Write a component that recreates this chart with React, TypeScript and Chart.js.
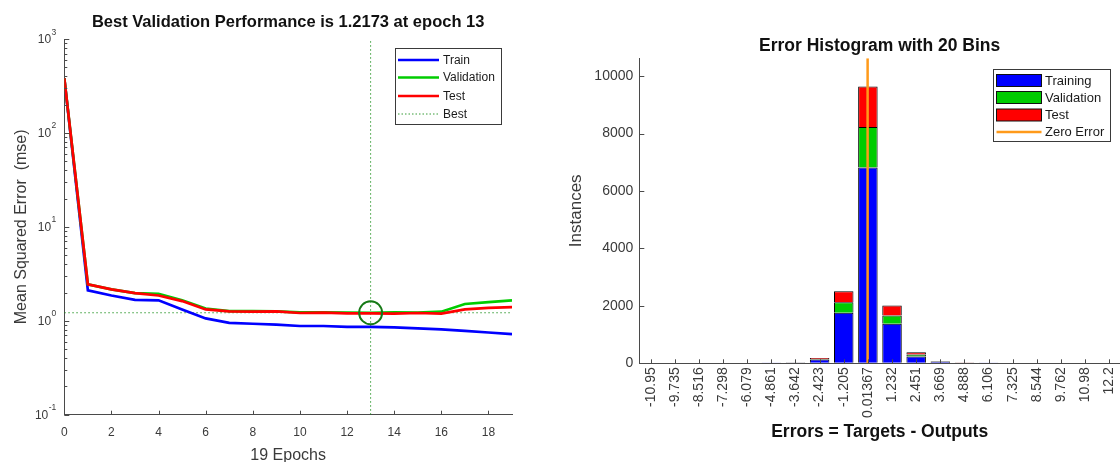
import React, { useEffect, useRef } from 'react';
import { Chart, registerables } from 'chart.js';

Chart.register(...registerables);

const FONT = "'Liberation Sans', Arial, Helvetica, sans-serif";

// ---------- Performance (left) data ----------
const epochs = [0, 1, 2, 3, 4, 5, 6, 7, 8, 9, 10, 11, 12, 13, 14, 15, 16, 17, 18, 19];
const trainPerf = [383, 2.11, 1.86, 1.67, 1.65, 1.32, 1.06, 0.95, 0.93, 0.91, 0.88, 0.88, 0.86, 0.86, 0.85, 0.83, 0.81, 0.78, 0.75, 0.72];
const validationPerf = [383, 2.44, 2.16, 1.97, 1.94, 1.65, 1.35, 1.27, 1.27, 1.26, 1.23, 1.23, 1.22, 1.2173, 1.23, 1.22, 1.25, 1.51, 1.58, 1.65];
const testPerf = [383, 2.44, 2.16, 1.97, 1.86, 1.62, 1.32, 1.26, 1.25, 1.26, 1.21, 1.22, 1.2, 1.2, 1.19, 1.21, 1.19, 1.32, 1.37, 1.4];
const bestEpoch = 13;
const bestPerf = 1.2173;
const perfDecades = [-1, 0, 1, 2, 3];
const epochTicks = [0, 2, 4, 6, 8, 10, 12, 14, 16, 18];
const perfTitle = 'Best Validation Performance is 1.2173 at epoch 13';

// ---------- Error histogram (right) data ----------
const binLabels = ['-10.95', '-9.735', '-8.516', '-7.298', '-6.079', '-4.861', '-3.642', '-2.423', '-1.205', '0.01367', '1.232', '2.451', '3.669', '4.888', '6.106', '7.325', '8.544', '9.762', '10.98', '12.2'];
const binCenters = binLabels.map(Number);
const trainingCounts = [0, 0, 0, 0, 0, 2, 32, 130, 1760, 6820, 1375, 240, 60, 25, 1, 0, 0, 0, 0, 0];
const validationCounts = [0, 0, 0, 0, 0, 0, 6, 20, 365, 1410, 290, 70, 10, 5, 0, 0, 0, 0, 0, 0];
const testCounts = [0, 0, 0, 0, 0, 0, 7, 35, 380, 1410, 345, 75, 10, 5, 0, 0, 0, 0, 0, 0];
const countTicks = [0, 2000, 4000, 6000, 8000, 10000];
const countMax = 10620;
const errorMin = -11.525;
const errorMax = 12.74;
const zeroError = 0;
const histTitle = 'Error Histogram with 20 Bins';

// ---------- styles ----------
const AXIS = '#4a4a4a';
const TEXT = '#3a3a3a';
const BLUE = '#0000ff';
const GREEN = '#00cc00';
const RED = '#ff0000';
const ORANGE = '#ff9a1a';
const BEST_DOT = 'rgba(20,140,20,0.85)';

function drawLegendBox(ctx: CanvasRenderingContext2D, x: number, y: number, w: number, h: number) {
  ctx.save();
  ctx.fillStyle = '#ffffff';
  ctx.fillRect(x, y, w, h);
  ctx.strokeStyle = '#3a3a3a';
  ctx.lineWidth = 1;
  ctx.strokeRect(Math.round(x) + 0.5, Math.round(y) + 0.5, Math.round(w), Math.round(h));
  ctx.restore();
}

const perfPlugin = {
  id: 'perfDecor',
  afterDraw(chart: any) {
    const ctx: CanvasRenderingContext2D = chart.ctx;
    const xs = chart.scales.x;
    const ys = chart.scales.y;
    const area = chart.chartArea;
    ctx.save();
    ctx.strokeStyle = AXIS;
    ctx.lineWidth = 1;
    for (const v of epochTicks) {
      const px = Math.round(xs.getPixelForValue(v)) + 0.5;
      ctx.beginPath();
      ctx.moveTo(px, area.bottom);
      ctx.lineTo(px, area.bottom - 4);
      ctx.stroke();
    }
    for (const e of perfDecades) {
      const py = Math.round(ys.getPixelForValue(Math.pow(10, e))) + 0.5;
      ctx.beginPath();
      ctx.moveTo(area.left, py);
      ctx.lineTo(area.left + 5, py);
      ctx.stroke();
      if (e < perfDecades[perfDecades.length - 1]) {
        for (let m = 2; m <= 9; m++) {
          const pm = Math.round(ys.getPixelForValue(m * Math.pow(10, e))) + 0.5;
          ctx.beginPath();
          ctx.moveTo(area.left, pm);
          ctx.lineTo(area.left + 3, pm);
          ctx.stroke();
        }
      }
    }
    ctx.fillStyle = TEXT;
    for (const e of perfDecades) {
      const py = ys.getPixelForValue(Math.pow(10, e));
      const right = area.left - 8;
      ctx.font = `8.5px ${FONT}`;
      const expText = e < 0 ? '-' + Math.abs(e) : String(e);
      const ew = ctx.measureText(expText).width;
      ctx.textAlign = 'left';
      ctx.textBaseline = 'alphabetic';
      ctx.fillText(expText, right - ew, py - 4.5);
      ctx.font = `12px ${FONT}`;
      ctx.textAlign = 'right';
      ctx.textBaseline = 'middle';
      ctx.fillText('10', right - ew - 0.5, py + 0.5);
    }
    ctx.restore();

    const lx = 394.6, ly = 48, lw = 106, lh = 76;
    drawLegendBox(ctx, lx, ly, lw, lh);
    const rows = [
      { label: 'Train', color: BLUE, dash: false },
      { label: 'Validation', color: GREEN, dash: false },
      { label: 'Test', color: RED, dash: false },
      { label: 'Best', color: BEST_DOT, dash: true },
    ];
    const rowY = [60, 77.5, 96, 114];
    ctx.save();
    rows.forEach((r, i) => {
      const y = rowY[i];
      ctx.beginPath();
      ctx.strokeStyle = r.color;
      ctx.lineWidth = r.dash ? 1 : 2.7;
      ctx.setLineDash(r.dash ? [1.5, 2] : []);
      ctx.moveTo(398, y);
      ctx.lineTo(439, y);
      ctx.stroke();
      ctx.setLineDash([]);
      ctx.fillStyle = '#1a1a1a';
      ctx.font = `12px ${FONT}`;
      ctx.textAlign = 'left';
      ctx.textBaseline = 'middle';
      ctx.fillText(r.label, 443, y + 0.5);
    });
    ctx.restore();
  },
};

const histPlugin = {
  id: 'histDecor',
  afterDraw(chart: any) {
    const ctx: CanvasRenderingContext2D = chart.ctx;
    const xs = chart.scales.x;
    const ys = chart.scales.y;
    const area = chart.chartArea;
    ctx.save();
    ctx.strokeStyle = AXIS;
    ctx.lineWidth = 1;
    for (const c of binCenters) {
      const px = Math.round(xs.getPixelForValue(c)) + 0.5;
      ctx.beginPath();
      ctx.moveTo(px, area.bottom);
      ctx.lineTo(px, area.bottom - 4);
      ctx.stroke();
    }
    for (const v of countTicks) {
      const py = Math.round(ys.getPixelForValue(v)) + 0.5;
      ctx.beginPath();
      ctx.moveTo(area.left, py);
      ctx.lineTo(area.left + 5, py);
      ctx.stroke();
    }
    ctx.restore();

    const lx = 433, ly = 69, lw = 117, lh = 72;
    drawLegendBox(ctx, lx, ly, lw, lh);
    const rows = [
      { label: 'Training', color: BLUE, line: false },
      { label: 'Validation', color: GREEN, line: false },
      { label: 'Test', color: RED, line: false },
      { label: 'Zero Error', color: ORANGE, line: true },
    ];
    const rowY = [80.5, 97.5, 115, 132];
    ctx.save();
    rows.forEach((r, i) => {
      const y = rowY[i];
      if (r.line) {
        ctx.beginPath();
        ctx.strokeStyle = r.color;
        ctx.lineWidth = 2.5;
        ctx.moveTo(436.5, y);
        ctx.lineTo(481.5, y);
        ctx.stroke();
      } else {
        ctx.fillStyle = r.color;
        ctx.fillRect(436.5, y - 6, 45, 12);
        ctx.strokeStyle = '#111';
        ctx.lineWidth = 1;
        ctx.strokeRect(436.5, y - 6, 45, 12);
      }
      ctx.fillStyle = '#1a1a1a';
      ctx.font = `13px ${FONT}`;
      ctx.textAlign = 'left';
      ctx.textBaseline = 'middle';
      ctx.fillText(r.label, 485, y + 0.5);
    });
    ctx.restore();
  },
};

function perfConfig(): any {
  const pts = (arr: number[]) => arr.map((v, i) => ({ x: epochs[i], y: v }));
  const lastEpoch = epochs[epochs.length - 1];
  const lineBase = { pointRadius: 0, borderWidth: 2.7, tension: 0, fill: false };
  return {
    type: 'line',
    data: {
      datasets: [
        { label: 'Train', data: pts(trainPerf), borderColor: BLUE, ...lineBase, order: 3 },
        { label: 'Validation', data: pts(validationPerf), borderColor: GREEN, ...lineBase, order: 2 },
        { label: 'Test', data: pts(testPerf), borderColor: RED, ...lineBase, order: 1 },
        {
          label: 'Best', data: [{ x: bestEpoch, y: 0.1 }, { x: bestEpoch, y: 1000 }],
          borderColor: BEST_DOT, borderWidth: 1, borderDash: [1.5, 2.5], pointRadius: 0, order: 5,
        },
        {
          label: 'Best level', data: [{ x: epochs[0], y: bestPerf }, { x: lastEpoch, y: bestPerf }],
          borderColor: BEST_DOT, borderWidth: 1, borderDash: [1.5, 2.5], pointRadius: 0, order: 5,
        },
        {
          label: 'Best point', data: [{ x: bestEpoch, y: bestPerf }], showLine: false,
          pointRadius: 11.5, pointBorderWidth: 2, pointBorderColor: '#177a17',
          pointBackgroundColor: 'rgba(0,0,0,0)', borderColor: '#177a17', order: 0,
        },
      ],
    },
    options: {
      responsive: false,
      animation: false,
      devicePixelRatio: 1,
      layout: { padding: { left: 0, right: 48, top: 0, bottom: 0 } },
      plugins: {
        legend: { display: false },
        tooltip: { enabled: false },
        title: {
          display: true, text: perfTitle, fullSize: false, color: '#111',
          font: { family: FONT, size: 16.5, weight: 'bold', lineHeight: 1.2 },
          padding: { top: 12.8, bottom: 6.4 },
        },
      },
      scales: {
        x: {
          type: 'linear', min: epochs[0], max: lastEpoch,
          afterBuildTicks: (s: any) => { s.ticks = epochTicks.map((v) => ({ value: v })); },
          ticks: { color: TEXT, font: { family: FONT, size: 12 }, padding: 11, autoSkip: false, maxRotation: 0 },
          grid: { display: true, drawOnChartArea: false, drawTicks: false },
          border: { display: true, color: AXIS, width: 1 },
          title: { display: true, text: '19 Epochs', color: TEXT, font: { family: FONT, size: 16, lineHeight: 0.75 }, padding: { top: 0, bottom: 0 } },
          afterFit: (s: any) => { s.height = 47.3; s.paddingLeft = 0; s.paddingRight = 0; },
        },
        y: {
          type: 'logarithmic', min: 0.1, max: 1000,
          afterBuildTicks: (s: any) => { s.ticks = perfDecades.map((e) => ({ value: Math.pow(10, e) })); },
          ticks: { display: false },
          grid: { display: true, drawOnChartArea: false, drawTicks: false },
          border: { display: true, color: AXIS, width: 1 },
          title: { display: true, text: 'Mean Squared Error  (mse)', color: TEXT, font: { family: FONT, size: 16, lineHeight: 1.2 }, padding: { top: 12, bottom: 0 } },
          afterFit: (s: any) => { s.width = 64.3; s.paddingTop = 0; s.paddingBottom = 0; },
        },
      },
    },
    plugins: [perfPlugin],
  };
}

function histConfig(): any {
  const pts = (arr: number[]) => arr.map((v, i) => ({ x: binCenters[i], y: v }));
  const barBase = {
    borderColor: '#000',
    borderWidth: (c: any) => (c.raw && c.raw.y > 0 ? 1 : 0),
    barPercentage: 0.81,
    categoryPercentage: 1,
    order: 1,
  };
  return {
    type: 'bar',
    data: {
      datasets: [
        { type: 'bar', label: 'Training', data: pts(trainingCounts), backgroundColor: BLUE, ...barBase },
        { type: 'bar', label: 'Validation', data: pts(validationCounts), backgroundColor: GREEN, ...barBase },
        { type: 'bar', label: 'Test', data: pts(testCounts), backgroundColor: RED, ...barBase },
        {
          type: 'line', label: 'Zero Error', stack: 'zero',
          data: [{ x: zeroError, y: 0 }, { x: zeroError, y: countMax }],
          borderColor: ORANGE, borderWidth: 2.5, pointRadius: 0, order: 0,
        },
      ],
    },
    options: {
      responsive: false,
      animation: false,
      devicePixelRatio: 1,
      layout: { padding: { left: 0, right: 0, top: 0, bottom: 0 } },
      plugins: {
        legend: { display: false },
        tooltip: { enabled: false },
        title: {
          display: true, text: histTitle, fullSize: false, color: '#111',
          font: { family: FONT, size: 17.5, weight: 'bold', lineHeight: 1.2 },
          padding: { top: 35.5, bottom: 1.8 },
        },
      },
      scales: {
        x: {
          type: 'linear', min: errorMin, max: errorMax, offset: false, stacked: true,
          afterBuildTicks: (s: any) => { s.ticks = binCenters.map((v) => ({ value: v })); },
          ticks: {
            color: TEXT, font: { family: FONT, size: 14 }, padding: 4, autoSkip: false,
            minRotation: 90, maxRotation: 90,
            callback: (_v: any, i: number) => binLabels[i],
          },
          grid: { display: true, drawOnChartArea: false, drawTicks: false, offset: false },
          border: { display: true, color: AXIS, width: 1 },
          title: { display: true, text: 'Errors = Targets - Outputs', color: '#111', font: { family: FONT, size: 17.5, weight: 'bold', lineHeight: 1.2 }, padding: { top: 0, bottom: 19.5 } },
          afterFit: (s: any) => { s.height = 98.7; s.paddingLeft = 0; s.paddingRight = 0; },
        },
        y: {
          type: 'linear', min: 0, max: countMax, stacked: true,
          afterBuildTicks: (s: any) => { s.ticks = countTicks.map((v) => ({ value: v })); },
          ticks: { color: TEXT, font: { family: FONT, size: 14 }, padding: 6, autoSkip: false, callback: (v: any) => String(v) },
          grid: { display: true, drawOnChartArea: false, drawTicks: false },
          border: { display: true, color: AXIS, width: 1 },
          title: { display: true, text: 'Instances', color: TEXT, font: { family: FONT, size: 17, lineHeight: 1.2 }, padding: { top: 6, bottom: 0 } },
          afterFit: (s: any) => { s.width = 79.3; s.paddingTop = 0; s.paddingBottom = 0; },
        },
      },
    },
    plugins: [histPlugin],
  };
}

export default function App() {
  const leftRef = useRef<HTMLCanvasElement>(null);
  const rightRef = useRef<HTMLCanvasElement>(null);

  useEffect(() => {
    const left = new Chart(leftRef.current as HTMLCanvasElement, perfConfig());
    const right = new Chart(rightRef.current as HTMLCanvasElement, histConfig());
    return () => {
      left.destroy();
      right.destroy();
    };
  }, []);

  return (
    <div style={{ position: 'absolute', left: 0, top: 0, width: 1120, height: 462, background: '#ffffff', overflow: 'hidden' }}>
      <canvas ref={leftRef} width={560} height={462} style={{ position: 'absolute', left: 0, top: 0, width: 560, height: 462 }} />
      <canvas ref={rightRef} width={560} height={462} style={{ position: 'absolute', left: 560, top: 0, width: 560, height: 462 }} />
    </div>
  );
}
